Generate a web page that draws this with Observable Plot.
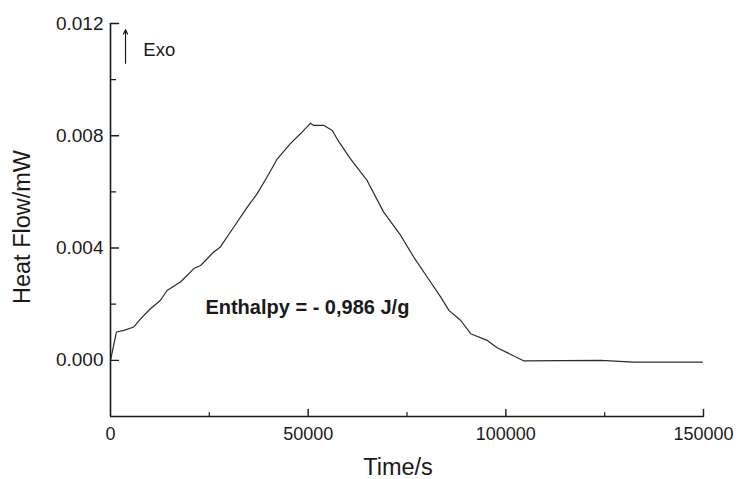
<!DOCTYPE html>
<html><head><meta charset="utf-8">
<script src="https://cdn.jsdelivr.net/npm/d3@7"></script>
<script src="https://cdn.jsdelivr.net/npm/@observablehq/plot@0.6"></script>
<style>
body{margin:0;background:#fff;}
svg{font-family:"Liberation Sans",Arial,Helvetica,sans-serif;}
</style>
</head><body><div id="chart"></div>
<script>
// Measured curve (time in s, heat flow in mW)
const time = [0, 1500, 3400, 5900, 7600, 10100, 12650, 14300, 17700, 21100, 22800, 26100, 27800, 31200, 34600, 37100, 39600, 42200, 45500, 48100, 50600, 51400, 54000, 56100, 57800, 60700, 64900, 69100, 73400, 76700, 80100, 83500, 85600, 88600, 91100, 95300, 97800, 104600, 124000, 132300, 149700];
const heatFlow = [0.0000, 0.00101, 0.00107, 0.00119, 0.00148, 0.00184, 0.00214, 0.00249, 0.00279, 0.00327, 0.00338, 0.00386, 0.00404, 0.00475, 0.00546, 0.00594, 0.00653, 0.00718, 0.00772, 0.00808, 0.00845, 0.00837, 0.00837, 0.00819, 0.00778, 0.00718, 0.00641, 0.00528, 0.00445, 0.00368, 0.00297, 0.00226, 0.00178, 0.00142, 0.00095, 0.00071, 0.00045, -0.00002, 0.0000, -0.00006, -0.00006];

const xDomain = [0, 150000];
const yDomain = [-0.002, 0.012];
const xMajorTicks = [50000, 100000, 150000];
const xTickLabels = [0, 50000, 100000, 150000];
const xMinorTicks = [25000, 75000, 125000];
const yMajorTicks = [0, 0.004, 0.008, 0.012];
const yMinorTicks = [0.002, 0.006, 0.010];

const xLabel = "Time/s";
const yLabel = "Heat Flow/mW";
const enthalpyText = ["Enthalpy = - 0,986 J/g"];
const enthalpyPos = [49800, 0.00189];
const exoText = ["Exo"];
const exoArrow = [{x: 3800, y1: 0.01058, y2: 0.01178}];
const exoTextPos = [8300, 0.01104];

const data = time.map((t, i) => ({t, h: heatFlow[i]}));

const tickLine = (len) => ({draw(ctx, l) { ctx.moveTo(0, 0); ctx.lineTo(0, -len); }});

const ink = "#1a1a1a";

const chart = Plot.plot({
  width: 739,
  height: 479,
  marginLeft: 110,
  marginRight: 36,
  marginTop: 23,
  marginBottom: 63,
  style: {fontSize: "18px", color: ink, background: "#fff", fontFamily: "Liberation Sans, Arial, sans-serif"},
  x: {domain: xDomain},
  y: {domain: yDomain},
  marks: [
    // axis lines
    Plot.ruleX([xDomain[0]], {y1: yDomain[0], y2: yDomain[1], stroke: ink, strokeWidth: 1.6}),
    Plot.ruleY([yDomain[0]], {x1: xDomain[0], x2: xDomain[1], stroke: ink, strokeWidth: 1.6}),
    // y ticks (inward)
    Plot.vector(yMajorTicks, {y: d => d, frameAnchor: "left", rotate: 90, length: 8, anchor: "start", shape: tickLine(8), stroke: ink, strokeWidth: 1.4}),
    Plot.vector(yMinorTicks, {y: d => d, frameAnchor: "left", rotate: 90, length: 5, anchor: "start", shape: tickLine(5), stroke: ink, strokeWidth: 1.2}),
    // x ticks (inward)
    Plot.vector(xMajorTicks, {x: d => d, frameAnchor: "bottom", rotate: 0, length: 7, anchor: "start", shape: tickLine(7), stroke: ink, strokeWidth: 1.4}),
    Plot.vector(xMinorTicks, {x: d => d, frameAnchor: "bottom", rotate: 0, length: 4, anchor: "start", shape: tickLine(4), stroke: ink, strokeWidth: 1.2}),
    // tick labels
    Plot.axisY(yMajorTicks, {tickSize: 0, tickPadding: 7, tickFormat: d3.format(".3f"), label: null, fill: ink, fontSize: 19}),
    Plot.axisX(xTickLabels, {tickSize: 0, tickPadding: 11, tickFormat: d => String(d), label: null, fill: ink, fontSize: 18}),
    // axis titles
    Plot.text([yLabel], {frameAnchor: "left", dx: -88, dy: 7, rotate: -90, fontSize: 23.5, fill: ink, lineAnchor: "middle", textAnchor: "middle"}),
    Plot.text([xLabel], {frameAnchor: "bottom", dx: -9, dy: 51, fontSize: 23.5, fill: ink, lineAnchor: "middle", textAnchor: "middle"}),
    // curve
    Plot.line(data, {x: "t", y: "h", stroke: "#2b2b2b", strokeWidth: 1.2}),
    // annotations
    Plot.text(enthalpyText, {x: () => enthalpyPos[0], y: () => enthalpyPos[1], fontSize: 20, fontWeight: "bold", fill: ink, textAnchor: "middle"}),
    Plot.arrow(exoArrow, {x: "x", y1: "y1", y2: "y2", x1: "x", x2: "x", stroke: ink, strokeWidth: 1.2, headLength: 6, headAngle: 50}),
    Plot.text(exoText, {x: () => exoTextPos[0], y: () => exoTextPos[1], fontSize: 18.5, fill: ink, textAnchor: "start"})
  ]
});
document.getElementById("chart").appendChild(chart);
</script>
</body></html>
